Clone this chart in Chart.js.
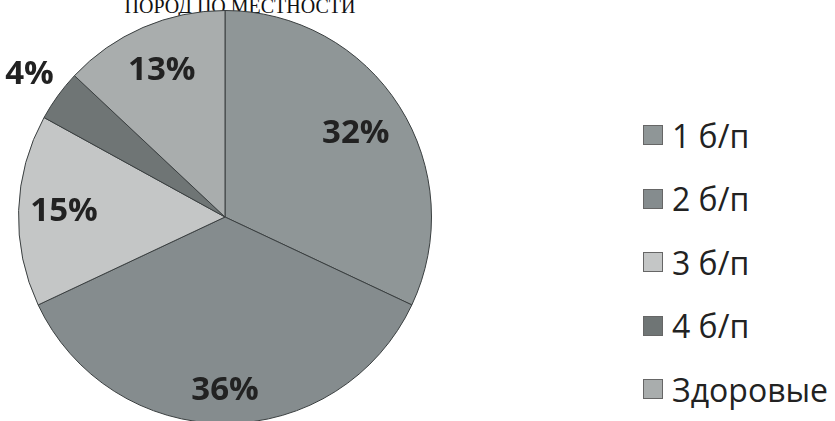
<!DOCTYPE html>
<html lang="ru">
<head>
    <meta charset="UTF-8">
    <title>Пороки по местности</title>
    <script src="https://cdn.jsdelivr.net/npm/chart.js"></script>
    <style>
        html, body { margin: 0; padding: 0; background: #fff; }
        #wrap { position: relative; width: 835px; height: 421px; overflow: hidden; }
        #pieBox { position: absolute; left: 0; top: 0; width: 450px; height: 430px; }
        .title {
            position: absolute; left: 0; width: 480px; top: -7px;
            text-align: center; font-family: 'Liberation Serif', serif;
            font-size: 20px; color: #111; line-height: 26px;
        }
        #legend { position: absolute; left: 643px; top: 119px; margin: 0; padding: 0; list-style: none; }
        #legend li {
            display: flex; align-items: center; height: 32px; margin-bottom: 31.5px;
            font-family: 'Open Sans', sans-serif; font-size: 32px; color: #222;
        }
        #legend span.box { width: 20px; height: 20px; margin-right: 9px; box-sizing: border-box; border: 1px solid #666; }
    </style>
</head>
<body>
<div id="wrap">
    <div class="title">ПОРОД ПО МЕСТНОСТИ</div>
    <div id="pieBox"><canvas id="pie"></canvas></div>
    <ul id="legend"></ul>
</div>

<script>
    // data
    const categories = ['1 б/п', '2 б/п', '3 б/п', '4 б/п', 'Здоровые'];
    const shares = [32, 36, 15, 4, 13];

    // styling
    const sliceColors = ['#8f9697', '#858c8e', '#c4c6c6', '#6f7575', '#a9adad'];
    const labelRadius = [0.75, 0.84, 0.78, 1.17, 0.77];

    // percent labels on slices
    const pctLabels = {
        id: 'pctLabels',
        afterDatasetsDraw(chart) {
            const ctx = chart.ctx;
            const meta = chart.getDatasetMeta(0);
            ctx.save();
            ctx.font = 'bold 33px "Open Sans", sans-serif';
            ctx.fillStyle = '#222';
            ctx.textAlign = 'center';
            ctx.textBaseline = 'middle';
            meta.data.forEach((arc, i) => {
                const mid = (arc.startAngle + arc.endAngle) / 2;
                const r = arc.outerRadius * labelRadius[i];
                ctx.fillText(shares[i] + '%', arc.x + Math.cos(mid) * r, arc.y + Math.sin(mid) * r);
            });
            ctx.restore();
        }
    };

    const chart = new Chart(document.getElementById('pie'), {
        type: 'pie',
        data: {
            labels: categories,
            datasets: [{
                data: shares,
                backgroundColor: sliceColors,
                borderColor: '#3a3f40',
                borderWidth: 1
            }]
        },
        options: {
            responsive: true,
            maintainAspectRatio: false,
            animation: false,
            layout: { padding: { left: 18, right: 18, top: 10, bottom: 6 } },
            plugins: {
                legend: { display: false },
                tooltip: { enabled: false }
            }
        },
        plugins: [pctLabels]
    });

    // legend built from the chart's own legend items
    const legendEl = document.getElementById('legend');
    chart.options.plugins.legend.labels.generateLabels(chart).forEach(item => {
        const li = document.createElement('li');
        const box = document.createElement('span');
        box.className = 'box';
        box.style.background = item.fillStyle;
        li.appendChild(box);
        li.appendChild(document.createTextNode(item.text));
        legendEl.appendChild(li);
    });
</script>
</body>
</html>
